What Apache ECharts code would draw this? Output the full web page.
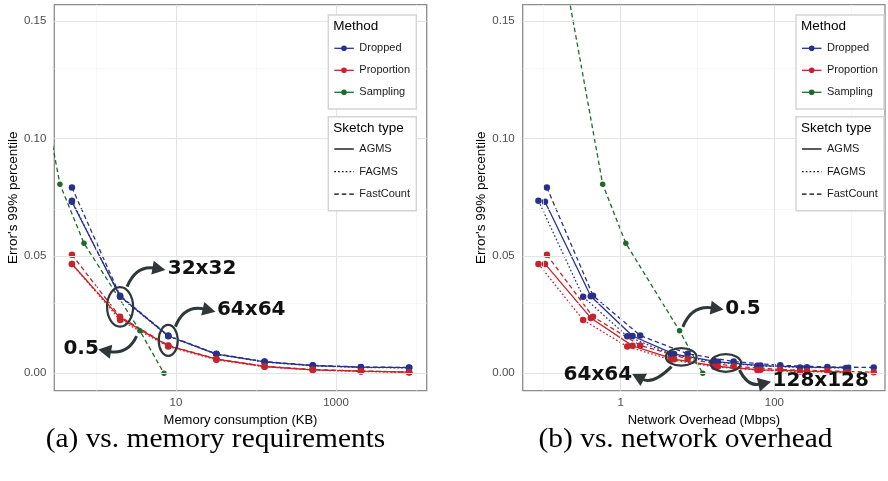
<!DOCTYPE html>
<html>
<head>
<meta charset="utf-8">
<script src="https://cdn.jsdelivr.net/npm/echarts@6/dist/echarts.min.js"></script>
<style>
  html, body { margin: 0; padding: 0; background: #fff; }
  #chart { width: 888px; height: 481px; }
</style>
</head>
<body>
<div id="chart"></div>
<script>
// ---- data ---------------------------------------------------------------
// Memory footprint (KB) of each sketch size, panel (a)
const memoryKB = [0.5, 2, 8, 32, 128, 512, 2048, 8192];
// Network overhead (Mbps) of each sketch size, panel (b)
const overheadAGMS      = [0.104, 0.41, 1.43, 4.97, 18.4, 66, 265, 923];
const overheadFAGMS     = [0.0855, 0.326, 1.22, 4.5, 16.5, 60, 215, 850];
const overheadFastCount = [0.110, 0.438, 1.80, 7.45, 29.5, 119, 488, 1954];
// Sampling baseline (rates 0.01, 0.05, 0.1, 0.5, 1.0)
const samplingRates    = [0.01, 0.05, 0.1, 0.5, 1.0];
const samplingMemoryKB = [0.0708, 0.354, 0.708, 3.54, 7.08];
const samplingOverhead = [0.117, 0.585, 1.17, 5.85, 11.7];
const samplingError    = [0.207, 0.0806, 0.0554, 0.0181, 0.0];
// Error's 99% percentile per method and sketch type
const droppedAGMS         = [0.0731, 0.0328, 0.0159, 0.0082, 0.0049, 0.0033, 0.0026, 0.0024];
const droppedFAGMS        = [0.0735, 0.0326, 0.0158, 0.0081, 0.0048, 0.0032, 0.0025, 0.0023];
const droppedFastCount    = [0.0792, 0.0331, 0.0161, 0.0083, 0.0050, 0.0034, 0.0027, 0.0025];
const proportionAGMS      = [0.0466, 0.0236, 0.0117, 0.0060, 0.0029, 0.0015, 0.0009, 0.0005];
const proportionFAGMS     = [0.0466, 0.0227, 0.0114, 0.0058, 0.0028, 0.0014, 0.0008, 0.0004];
const proportionFastCount = [0.0505, 0.0241, 0.0119, 0.0061, 0.0030, 0.0016, 0.0010, 0.0005];
// Axis ticks
const yTicks = [0, 0.05, 0.10, 0.15];
const yMinorTicks = [0.025, 0.075, 0.125];
const xTicksA = [10, 1000];
const xMinorTicksA = [1, 100, 10000];
const xTicksB = [1, 100];
const xMinorTicksB = [0.1, 10, 1000];

// ---- styling ------------------------------------------------------------
const FONT = 'Liberation Sans, Arial, sans-serif';
const BLUE = '#27318c';
const RED = '#c4242b';
const GREEN = '#1f6a2a';
const ANNO = '#2f3739';
const DASH = { AGMS: 'solid', FAGMS: [1.6, 2.2], FastCount: [4.5, 3] };

const chart = echarts.init(document.getElementById('chart'), null, { renderer: 'canvas' });

function lineSeries(name, xs, ys, color, dash, g, size) {
  return {
    type: 'line', name: name, xAxisIndex: g, yAxisIndex: g,
    data: xs.map((x, i) => [x, ys[i]]),
    symbol: 'circle', symbolSize: size || 6.5, showSymbol: true,
    lineStyle: { color: color, width: 1.3, type: dash },
    itemStyle: { color: color },
    clip: true, z: 3, silent: true, animation: false
  };
}

function gridSeries(g, xMajor, xMinor) {
  const major = { color: '#e3e3e3', width: 1.1, type: 'solid' };
  const minor = { color: '#f3f3f3', width: 0.7, type: 'solid' };
  const items = []
    .concat(xMinor.map(v => ({ xAxis: v, lineStyle: minor })))
    .concat(yMinorTicks.map(v => ({ yAxis: v, lineStyle: minor })))
    .concat(xMajor.map(v => ({ xAxis: v, lineStyle: major })))
    .concat(yTicks.map(v => ({ yAxis: v, lineStyle: major })));
  return {
    type: 'line', xAxisIndex: g, yAxisIndex: g, data: [], z: 1, silent: true,
    markLine: {
      silent: true, symbol: ['none', 'none'], animation: false,
      label: { show: false }, emphasis: { disabled: true }, data: items
    }
  };
}

function isTick(v, list) {
  return list.some(t => Math.abs(Math.log10(v) - Math.log10(t)) < 1e-6);
}

function xAxis(g, min, max, labels, name, nameGap) {
  return {
    type: 'log', logBase: 10, gridIndex: g, min: min, max: max,
    axisLine: { show: false }, axisTick: { show: false },
    splitLine: { show: false }, minorTick: { show: false }, minorSplitLine: { show: false },
    axisLabel: {
      color: '#4d4d4d', fontSize: 11.5, fontFamily: FONT, margin: 6,
      formatter: v => (isTick(v, labels) ? String(v) : '')
    },
    name: name, nameLocation: 'middle', nameGap: nameGap,
    nameTextStyle: { color: '#000', fontSize: 13, fontFamily: FONT }
  };
}

function yAxis(g) {
  return {
    type: 'value', gridIndex: g, min: -0.00741, max: 0.15707, splitNumber: 3,
    axisLine: { show: false }, axisTick: { show: false }, splitLine: { show: false },
    axisLabel: {
      customValues: yTicks,
      color: '#4d4d4d', fontSize: 11.5, fontFamily: FONT, margin: 8,
      formatter: v => v.toFixed(2)
    },
    name: "Error's 99% percentile", nameLocation: 'middle', nameGap: 32.5,
    nameTextStyle: { color: '#000', fontSize: 13.5, fontFamily: FONT }
  };
}

const gridBox = { show: true, borderColor: '#8c8c8c', borderWidth: 1.3, backgroundColor: 'transparent' };

const series = [
  gridSeries(0, xTicksA, xMinorTicksA),
  gridSeries(1, xTicksB, xMinorTicksB),
  // panel (a): memory
  lineSeries('Dropped AGMS', memoryKB, droppedAGMS, BLUE, DASH.AGMS, 0),
  lineSeries('Dropped FAGMS', memoryKB, droppedFAGMS, BLUE, DASH.FAGMS, 0),
  lineSeries('Dropped FastCount', memoryKB, droppedFastCount, BLUE, DASH.FastCount, 0),
  lineSeries('Proportion AGMS', memoryKB, proportionAGMS, RED, DASH.AGMS, 0),
  lineSeries('Proportion FAGMS', memoryKB, proportionFAGMS, RED, DASH.FAGMS, 0),
  lineSeries('Proportion FastCount', memoryKB, proportionFastCount, RED, DASH.FastCount, 0),
  lineSeries('Sampling', samplingMemoryKB, samplingError, GREEN, DASH.FastCount, 0, 5.5),
  // panel (b): network overhead
  lineSeries('Dropped AGMS', overheadAGMS, droppedAGMS, BLUE, DASH.AGMS, 1),
  lineSeries('Dropped FAGMS', overheadFAGMS, droppedFAGMS, BLUE, DASH.FAGMS, 1),
  lineSeries('Dropped FastCount', overheadFastCount, droppedFastCount, BLUE, DASH.FastCount, 1),
  lineSeries('Proportion AGMS', overheadAGMS, proportionAGMS, RED, DASH.AGMS, 1),
  lineSeries('Proportion FAGMS', overheadFAGMS, proportionFAGMS, RED, DASH.FAGMS, 1),
  lineSeries('Proportion FastCount', overheadFastCount, proportionFastCount, RED, DASH.FastCount, 1),
  lineSeries('Sampling', samplingOverhead, samplingError, GREEN, DASH.FastCount, 1, 5.5)
];

chart.setOption({
  animation: false,
  backgroundColor: '#fff',
  grid: [
    Object.assign({ left: 54.3, top: 4.7, width: 372.4, height: 386 }, gridBox),
    Object.assign({ left: 522.7, top: 4.7, width: 367, height: 386 }, gridBox)
  ],
  xAxis: [
    xAxis(0, 0.3012, 13610, xTicksA, 'Memory consumption (KB)', 21),
    xAxis(1, 0.05339, 2740, xTicksB, 'Network Overhead (Mbps)', 21)
  ],
  yAxis: [yAxis(0), yAxis(1)],
  series: series
});

// ---- legends, annotations and captions ---------------------------------
function legend(x0) {
  const els = [];
  const w = 88, h = 94;
  const methods = [['Dropped', BLUE], ['Proportion', RED], ['Sampling', GREEN]];
  const types = [['AGMS', DASH.AGMS], ['FAGMS', DASH.FAGMS], ['FastCount', DASH.FastCount]];
  const rowY = [48.3, 70.3, 92.3];
  els.push({ type: 'rect', shape: { x: x0, y: 15, width: w, height: h },
    style: { fill: '#fff', stroke: '#d4d4d4', lineWidth: 1.4 } });
  els.push({ type: 'text', x: x0 + 5, y: 26, style: { text: 'Method', fill: '#000',
    font: '13.5px ' + FONT, verticalAlign: 'middle' } });
  methods.forEach((m, i) => {
    const y = rowY[i];
    els.push({ type: 'line', shape: { x1: x0 + 6, y1: y, x2: x0 + 25.5, y2: y },
      style: { stroke: m[1], lineWidth: 1.3 } });
    els.push({ type: 'circle', shape: { cx: x0 + 15.7, cy: y, r: 2.8 }, style: { fill: m[1] } });
    els.push({ type: 'text', x: x0 + 31, y: y, style: { text: m[0], fill: '#1a1a1a',
      font: '11px ' + FONT, verticalAlign: 'middle' } });
  });
  const y1 = 116.7;
  els.push({ type: 'rect', shape: { x: x0, y: y1, width: w, height: h },
    style: { fill: '#fff', stroke: '#d4d4d4', lineWidth: 1.4 } });
  els.push({ type: 'text', x: x0 + 5, y: y1 + 11.6, style: { text: 'Sketch type', fill: '#000',
    font: '13.5px ' + FONT, verticalAlign: 'middle' } });
  types.forEach((t, i) => {
    const y = y1 + 32.3 + i * 22.6;
    els.push({ type: 'line', shape: { x1: x0 + 6, y1: y, x2: x0 + 25.5, y2: y },
      style: { stroke: '#000', lineWidth: 1.3, lineDash: t[1] === 'solid' ? null : t[1] } });
    els.push({ type: 'text', x: x0 + 31, y: y, style: { text: t[0], fill: '#1a1a1a',
      font: '11px ' + FONT, verticalAlign: 'middle' } });
  });
  return els;
}

function ellipse(c, rx, ry) {
  return { type: 'ellipse', shape: { cx: c[0], cy: c[1], rx: rx, ry: ry },
    style: { fill: null, stroke: ANNO, lineWidth: 2.2 }, z: 50 };
}

function arrow(c, s, cp, e) {
  const x1 = c[0] + s[0], y1 = c[1] + s[1];
  const cx = c[0] + cp[0], cy = c[1] + cp[1];
  const x2 = c[0] + e[0], y2 = c[1] + e[1];
  let dx = x2 - cx, dy = y2 - cy;
  const len = Math.hypot(dx, dy); dx /= len; dy /= len;
  const hl = 13, hw = 7;
  const bx = x2 - dx * hl, by = y2 - dy * hl;
  return [
    { type: 'bezierCurve', shape: { x1: x1, y1: y1, x2: bx + dx * 2, y2: by + dy * 2, cpx1: cx, cpy1: cy },
      style: { fill: null, stroke: ANNO, lineWidth: 3 }, z: 50 },
    { type: 'polygon', shape: { points: [[x2, y2], [bx - dy * hw, by + dx * hw], [bx + dy * hw, by - dx * hw]] },
      style: { fill: ANNO }, z: 50 }
  ];
}

function tag(c, off, text) {
  return { type: 'text', x: c[0] + off[0], y: c[1] + off[1], z: 50,
    style: { text: text, fill: '#111', font: 'bold 20px "DejaVu Sans", sans-serif',
      align: 'center', verticalAlign: 'middle' } };
}

function caption(x, text) {
  // slight horizontal stretch about the text's own anchor point
  return { type: 'text', x: x, y: 440, scaleX: 1.05, originX: 0, originY: 0,
    style: { text: text, fill: '#000', font: '28px "Liberation Serif", serif',
      align: 'center', verticalAlign: 'middle' } };
}

const px = (g, x, y) => chart.convertToPixel({ gridIndex: g }, [x, y]);

// panel (a) highlights
const a32 = px(0, memoryKB[1], 0.0283);
const a64 = px(0, memoryKB[2], 0.0140);
const aHalf = px(0, samplingMemoryKB[3], samplingError[3]);
// panel (b) highlights
const b64 = px(1, 6.14, 0.0070);
const b128 = px(1, 23.3, 0.0044);
const bHalf = px(1, samplingOverhead[3], samplingError[3]);

const graphics = []
  .concat(legend(328.3), legend(796))
  .concat([ellipse(a32, 13, 19.7), ellipse(a64, 9.5, 15.5)])
  .concat(arrow(a32, [7, -20.3], [16, -42], [45.3, -37]), [tag(a32, [82, -38], '32x32')])
  .concat(arrow(a64, [7.2, -13.8], [16, -36], [47.2, -28.8]), [tag(a64, [83, -30.8], '64x64')])
  .concat(arrow(aHalf, [-3.3, 5.3], [-12, 24], [-41.7, 18.6]), [tag(aHalf, [-58.8, 18.3], '0.5')])
  .concat([ellipse(b64, 15.3, 8.8), ellipse(b128, 15.3, 8.8)])
  .concat(arrow(b64, [-9.7, 9.7], [-28, 28], [-49, 17]), [tag(b64, [-83.3, 17.5], '64x64')])
  .concat(arrow(bHalf, [3.3, -4], [12, -26], [44, -21.4]), [tag(bHalf, [63.3, -22.2], '0.5')])
  .concat(arrow(b128, [13.7, 7], [22, 24], [45.3, 18.7]), [tag(b128, [95, 18], '128x128')])
  .concat([
    caption(215.5, '(a) vs. memory requirements'),
    caption(685.5, '(b) vs. network overhead')
  ]);

chart.setOption({ graphic: graphics.map(g => Object.assign({ z: 60, silent: true }, g)) });
</script>
</body>
</html>
